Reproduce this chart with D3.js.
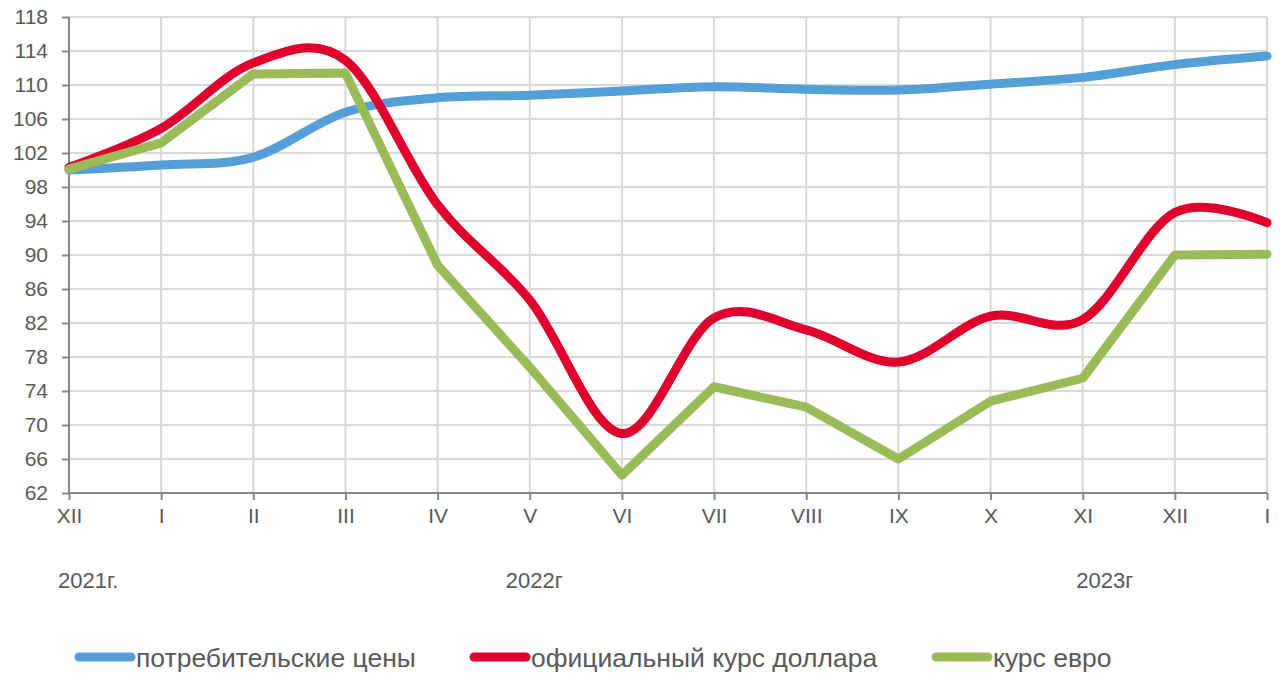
<!DOCTYPE html>
<html>
<head>
<meta charset="utf-8">
<script src="https://cdn.jsdelivr.net/npm/d3@7"></script>
<style>
  body { margin: 0; background: #fff; }
  svg text { font-family: "Liberation Sans", Arial, sans-serif; fill: #595959; }
  .grid line { stroke: #d9d9d9; stroke-width: 2; }
  .axis line { stroke: #868686; stroke-width: 2; }
</style>
</head>
<body>
<svg id="chart" width="1280" height="674"></svg>
<script>
var months = ["XII", "I", "II", "III", "IV", "V", "VI", "VII", "VIII", "IX", "X", "XI", "XII", "I"];
var years = ["2021г.", "2022г", "2023г"];
var yearAt = [-0.12, 4.74, 10.93];
var yTicks = [62, 66, 70, 74, 78, 82, 86, 90, 94, 98, 102, 106, 110, 114, 118];

var prices = [100.0, 100.6, 101.5, 106.8, 108.5, 108.8, 109.3, 109.8, 109.5, 109.4, 110.1, 110.9, 112.4, 113.4];
var dollar = [100.3, 104.9, 112.6, 112.9, 95.9, 84.7, 69.0, 82.6, 81.2, 77.4, 82.8, 82.4, 95.0, 93.8];
var euro   = [100.1, 103.2, 111.3, 111.4, 88.8, 76.8, 64.1, 74.5, 72.1, 66.0, 72.8, 75.5, 90.0, 90.1];

var series = [
  { name: "потребительские цены", values: prices, color: "#559fd9", smooth: true },
  { name: "официальный курс доллара", values: dollar, color: "#e0002d", smooth: true },
  { name: "курс евро", values: euro, color: "#9bbb59", smooth: false }
];

var svg = d3.select("#chart");
var m = { left: 69, right: 1267, top: 17, bottom: 493 };

var x = d3.scalePoint().domain(d3.range(months.length)).range([m.left, m.right]);
var y = d3.scaleLinear().domain([62, 118]).range([m.bottom, m.top]);

// grid
var grid = svg.append("g").attr("class", "grid");
grid.selectAll(".h").data(yTicks.slice(1)).enter().append("line")
  .attr("x1", m.left).attr("x2", m.right)
  .attr("y1", function(d) { return y(d); }).attr("y2", function(d) { return y(d); });
grid.selectAll(".v").data(d3.range(1, months.length)).enter().append("line")
  .attr("x1", function(d) { return x(d); }).attr("x2", function(d) { return x(d); })
  .attr("y1", m.top).attr("y2", m.bottom);

// axes
svg.append("g").attr("class", "axis")
  .attr("transform", "translate(" + m.left + ",0)")
  .call(d3.axisLeft(y).tickValues(yTicks).tickSize(7).tickSizeOuter(0).tickPadding(14));
svg.append("g").attr("class", "axis")
  .attr("transform", "translate(0," + m.bottom + ")")
  .call(d3.axisBottom(x).tickSize(7).tickSizeOuter(0).tickPadding(8)
    .tickFormat(function(i) { return months[i]; }));
svg.selectAll(".axis text").style("font-size", "21px").attr("fill", "#595959");
svg.selectAll(".axis .domain").remove();
svg.append("line")
  .attr("x1", m.left).attr("x2", m.left).attr("y1", m.top).attr("y2", m.bottom)
  .attr("stroke", "#868686").attr("stroke-width", 2);
svg.append("line")
  .attr("x1", m.left).attr("x2", m.right).attr("y1", m.bottom).attr("y2", m.bottom)
  .attr("stroke", "#868686").attr("stroke-width", 2);

// year labels
svg.selectAll(".year").data(years).enter().append("text")
  .attr("x", function(d, i) { return x(0) + yearAt[i] * (x(1) - x(0)); })
  .attr("y", 588)
  .style("font-size", "22px")
  .text(function(d) { return d; });

// lines
series.forEach(function(s) {
  var line = d3.line()
    .x(function(d, i) { return x(i); })
    .y(function(d) { return y(d); })
    .curve(s.smooth ? d3.curveCardinal.tension(0) : d3.curveLinear);
  svg.append("path")
    .datum(s.values)
    .attr("d", line)
    .attr("fill", "none")
    .attr("stroke", s.color)
    .attr("stroke-width", 9)
    .attr("stroke-linejoin", "round")
    .attr("stroke-linecap", "round");
});

// legend
var legendX = [75, 470, 932];
var legend = svg.selectAll(".legend").data(series).enter().append("g")
  .attr("transform", function(d, i) { return "translate(" + legendX[i] + ",657)"; });
legend.append("line")
  .attr("x1", 4).attr("x2", 56)
  .attr("stroke", function(d) { return d.color; })
  .attr("stroke-width", 9)
  .attr("stroke-linecap", "round");
legend.append("text")
  .attr("x", 61).attr("y", 10)
  .style("font-size", "26.5px")
  .text(function(d) { return d.name; });
</script>
</body>
</html>
